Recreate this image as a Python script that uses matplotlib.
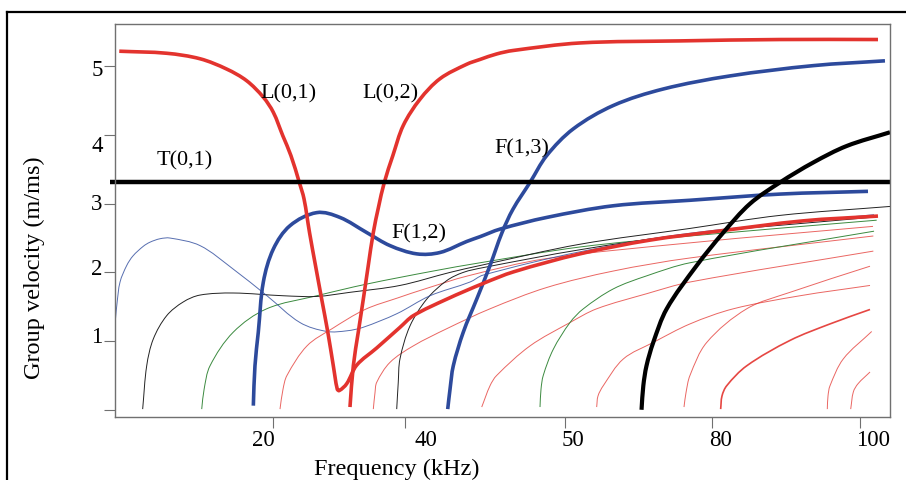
import numpy as np
import matplotlib
matplotlib.use("Agg")
import matplotlib.pyplot as plt
import matplotlib.transforms as mtransforms
from matplotlib.lines import Line2D
from matplotlib.path import Path
from matplotlib.patches import PathPatch

plt.rcParams["font.family"] = ["Liberation Serif", "DejaVu Serif"]

# -------------------------------
# Data (x = position along the frequency axis, 0-100; y = group velocity m/ms)
# -------------------------------

tick_pos = [20.4, 37.4, 58.1, 77.0, 96.1]
tick_labels = ["20", "40", "50", "80", "100"]
tick_label_pos = [19.2, 40.1, 59.1, 78.1, 97.8]   # labels sit off their ticks in the original

ytick_labels = ["1", "2", "3", "4", "5"]
ytick_label_pos = [1.07, 2.05, 3.0, 3.85, 4.96]

# thick modes
L01_x = [0.55, 6.67, 10.97, 14.41, 16.99, 19.14, 20.43, 21.65, 22.7, 23.78, 24.39, 25.1, 25.87,
         26.67, 27.46, 28.17, 28.68, 28.94, 29.9, 31.19, 33.77, 36.77, 38.49, 42.8, 47.52, 51.48,
         60.0, 69.03, 77.81, 88.77, 98.45]
L01_y = [5.22, 5.19, 5.11, 4.96, 4.79, 4.55, 4.33, 3.99, 3.70, 3.31, 3.07, 2.58, 2.10,
         1.61, 1.13, 0.64, 0.30, 0.28, 0.38, 0.65, 0.90, 1.20, 1.37, 1.61, 1.84, 2.01,
         2.27, 2.47, 2.60, 2.75, 2.82]

L02_x = [30.32, 30.75, 31.39, 32.04, 32.68, 33.33, 34.0, 34.75, 35.85, 37.2, 39.35, 41.94,
         45.38, 47.1, 49.25, 51.35, 60.0, 72.9, 85.81, 98.45]
L02_y = [0.04, 0.64, 1.13, 1.61, 2.10, 2.58, 2.95, 3.31, 3.70, 4.14, 4.52, 4.82,
         5.03, 5.10, 5.18, 5.23, 5.34, 5.37, 5.39, 5.39]

F12_x = [17.85, 18.06, 18.49, 19.14, 20.43, 22.58, 26.03, 29.03, 32.48, 35.48, 38.93, 41.94,
         45.38, 47.1, 49.68, 55.7, 64.3, 74.19, 85.81, 97.16]
F12_y = [0.06, 0.64, 1.13, 1.86, 2.34, 2.68, 2.87, 2.80, 2.58, 2.39, 2.27, 2.29,
         2.45, 2.52, 2.63, 2.80, 2.97, 3.05, 3.14, 3.18]

F13_x = [42.93, 43.23, 43.65, 44.94, 46.67, 48.39, 49.94, 51.35, 53.55, 55.7, 59.14, 64.3,
         70.75, 79.35, 90.1, 99.35]
F13_y = [0.01, 0.30, 0.64, 1.13, 1.61, 2.10, 2.58, 2.92, 3.31, 3.70, 4.09, 4.43,
         4.67, 4.86, 5.01, 5.08]

blk_thick_x = [67.94, 68.17, 68.58, 69.45, 71.19, 75.06, 78.49, 81.94, 85.81, 90.1, 94.41, 100.0]
blk_thick_y = [0.0, 0.35, 0.64, 0.98, 1.47, 2.10, 2.58, 3.00, 3.31, 3.60, 3.84, 4.04]

T01_y = 3.31

# thin modes
blue_thin_x = [0.06, 0.26, 0.65, 1.51, 2.32, 3.65, 4.52, 5.81, 7.1, 10.97, 15.23, 19.61,
               23.87, 27.35, 29.94, 32.0, 36.39, 40.65, 45.81, 47.48, 60.0, 74.19, 97.94]
blue_thin_y = [1.32, 1.55, 1.86, 2.10, 2.24, 2.38, 2.44, 2.49, 2.50, 2.39, 2.05, 1.66,
               1.27, 1.14, 1.15, 1.20, 1.40, 1.66, 1.86, 1.96, 2.30, 2.57, 2.84]

black1_x = [3.57, 4.09, 4.94, 6.67, 8.81, 10.97, 15.26, 21.72, 26.03, 30.32, 36.77, 43.23,
            47.1, 60.0, 74.19, 85.81, 100.0]
black1_y = [0.01, 0.64, 1.03, 1.37, 1.57, 1.67, 1.70, 1.66, 1.65, 1.71, 1.81, 2.00,
            2.10, 2.41, 2.64, 2.83, 2.96]

black2_x = [36.35, 36.55, 36.77, 38.06, 40.22, 42.8, 44.94, 47.52, 60.0, 74.19, 97.42]
black2_y = [0.01, 0.40, 0.74, 1.22, 1.61, 1.88, 2.00, 2.07, 2.33, 2.56, 2.80]

green1_x = [11.19, 11.5, 12.26, 15.26, 19.57, 26.03, 32.48, 41.07, 47.1, 60.0, 74.19, 98.28]
green1_y = [0.01, 0.3, 0.64, 1.13, 1.47, 1.66, 1.83, 2.02, 2.14, 2.37, 2.53, 2.76]

green2_x = [54.84, 54.97, 55.26, 56.55, 58.71, 60.43, 64.3, 68.61, 74.19, 97.94]
green2_y = [0.04, 0.3, 0.50, 0.88, 1.27, 1.47, 1.76, 1.95, 2.14, 2.60]

red_thin = [
    ([21.29, 21.68, 22.19, 24.77, 28.0, 32.26, 36.52, 40.0, 45.55, 55.61, 74.19, 97.81],
     [0.01, 0.30, 0.50, 0.93, 1.18, 1.46, 1.63, 1.76, 1.95, 2.20, 2.43, 2.67]),
    ([33.33, 33.55, 33.77, 35.48, 38.49, 42.8, 48.39, 55.7, 64.3, 74.19, 97.85],
     [0.01, 0.25, 0.40, 0.69, 0.93, 1.18, 1.47, 1.78, 2.02, 2.21, 2.53]),
    ([47.32, 48.39, 49.25, 53.55, 58.71, 62.15, 68.61, 74.19, 97.85],
     [0.04, 0.35, 0.50, 0.93, 1.27, 1.47, 1.69, 1.86, 2.31]),
    ([62.15, 62.32, 63.0, 65.59, 69.45, 74.19, 79.78, 88.39, 97.42],
     [0.04, 0.20, 0.35, 0.74, 0.98, 1.25, 1.47, 1.66, 1.81]),
    ([73.42, 73.68, 74.19, 76.35, 81.51, 87.1, 97.42],
     [0.04, 0.25, 0.50, 0.98, 1.47, 1.71, 2.09]),
    ([91.91, 92.0, 92.26, 93.97, 97.64],
     [0.01, 0.20, 0.35, 0.74, 1.14]),
    ([94.93, 95.27, 95.88, 97.42],
     [0.01, 0.26, 0.38, 0.55]),
]
red_mid_x = [78.15, 78.32, 78.93, 81.51, 87.1, 92.26, 97.42]
red_mid_y = [0.01, 0.20, 0.35, 0.64, 1.01, 1.25, 1.46]

mode_labels = ["L(0,1)", "L(0,2)", "T(0,1)", "F(1,3)", "F(1,2)"]
label_x = [22.4, 35.5, 9.0, 52.5, 39.2]
label_y = [4.62, 4.62, 3.64, 3.81, 2.58]

# -------------------------------
# Helpers
# -------------------------------

RED = "#e3332e"
BLUE = "#2d4a9c"
GREEN = "#3b8a3f"

# rough pixel size of one data unit, only used to shape the bezier handles
SX, SY = 7.75, 68.7


def curve(ax, xs, ys, **kw):
    # smooth bezier through the read points (no extra data points added)
    P = np.column_stack([np.asarray(xs) * SX, np.asarray(ys) * SY])
    n = len(P)
    tang = np.zeros_like(P)
    for i in range(n):
        d = P[min(i + 1, n - 1)] - P[max(i - 1, 0)]
        tang[i] = d / np.hypot(*d)
    verts = [P[0]]
    codes = [Path.MOVETO]
    for i in range(n - 1):
        h = np.hypot(*(P[i + 1] - P[i])) / 3
        verts += [P[i] + tang[i] * h, P[i + 1] - tang[i + 1] * h, P[i + 1]]
        codes += [Path.CURVE4] * 3
    V = np.array(verts)
    V[:, 0] /= SX
    V[:, 1] /= SY
    ax.add_patch(PathPatch(Path(V, codes), facecolor="none", capstyle="butt",
                           joinstyle="round", **kw))


# -------------------------------
# Plot
# -------------------------------

fig = plt.figure(figsize=(9.06, 4.81), dpi=100)
ax = fig.add_axes([115 / 906, 1 - 418 / 481, 775 / 906, 393 / 481])

for xs, ys in red_thin:
    curve(ax, xs, ys, edgecolor=RED, alpha=0.75, lw=0.7)
curve(ax, red_mid_x, red_mid_y, edgecolor=RED, alpha=0.9, lw=1.2)
curve(ax, green2_x, green2_y, edgecolor=GREEN, lw=0.7)
curve(ax, green1_x, green1_y, edgecolor=GREEN, lw=0.7)
curve(ax, black2_x, black2_y, edgecolor="#222222", lw=0.7)
curve(ax, black1_x, black1_y, edgecolor="#222222", lw=0.7)
curve(ax, blue_thin_x, blue_thin_y, edgecolor=BLUE, alpha=0.8, lw=0.7)

curve(ax, F12_x, F12_y, edgecolor=BLUE, lw=2.6)
curve(ax, F13_x, F13_y, edgecolor=BLUE, lw=2.6)
curve(ax, L01_x, L01_y, edgecolor=RED, lw=2.6)
curve(ax, L02_x, L02_y, edgecolor=RED, lw=2.6)
curve(ax, blk_thick_x, blk_thick_y, edgecolor="black", lw=3.0)
ax.plot([-0.6, 100], [T01_y, T01_y], color="black", lw=3.2, clip_on=False,
        solid_capstyle="butt")

for txt, tx, ty in zip(mode_labels, label_x, label_y):
    ax.text(tx, ty, txt, fontsize=16, ha="center", va="center")

ax.set_xlim(0, 100)
ax.set_ylim(-0.105, 5.616)
ax.set_xticks(tick_pos)
ax.set_xticklabels([])
ax.set_yticks([0, 1, 2, 3, 4, 5])
ax.set_yticklabels([])
ax.tick_params(axis="both", direction="out", length=8, width=0.8, color="#707070")
for sp in ax.spines.values():
    sp.set_color("#707070")
    sp.set_linewidth(1.0)

# tick labels placed where the original has them
xlab_tr = mtransforms.blended_transform_factory(ax.transData, fig.transFigure)
for pos, lab in zip(tick_label_pos, tick_labels):
    ax.text(pos, 1 - 440 / 481, lab, transform=xlab_tr, fontsize=16.5, ha="center", va="center")
for pos, lab in zip(ytick_label_pos, ytick_labels):
    ax.annotate(lab, xy=(0, pos), xycoords=("axes fraction", "data"), xytext=(-9, 0),
                textcoords="offset points", fontsize=16.5, ha="right", va="center")

fig.text(397 / 906, 1 - 469 / 481, "Frequency (kHz)", fontsize=17.5, ha="center", va="center")
fig.text(34 / 906, 1 - 268 / 481, "Group velocity (m/ms)", fontsize=17.5, ha="center",
         va="center", rotation=90)

# outer frame of the original figure
fig.add_artist(Line2D([7 / 906, 1.0], [1 - 13 / 481, 1 - 13 / 481], color="black", lw=1.6,
                      transform=fig.transFigure))
fig.add_artist(Line2D([7 / 906, 7 / 906], [0.0, 1 - 13 / 481], color="black", lw=1.6,
                      transform=fig.transFigure))

fig.savefig("out.png", dpi=100)
